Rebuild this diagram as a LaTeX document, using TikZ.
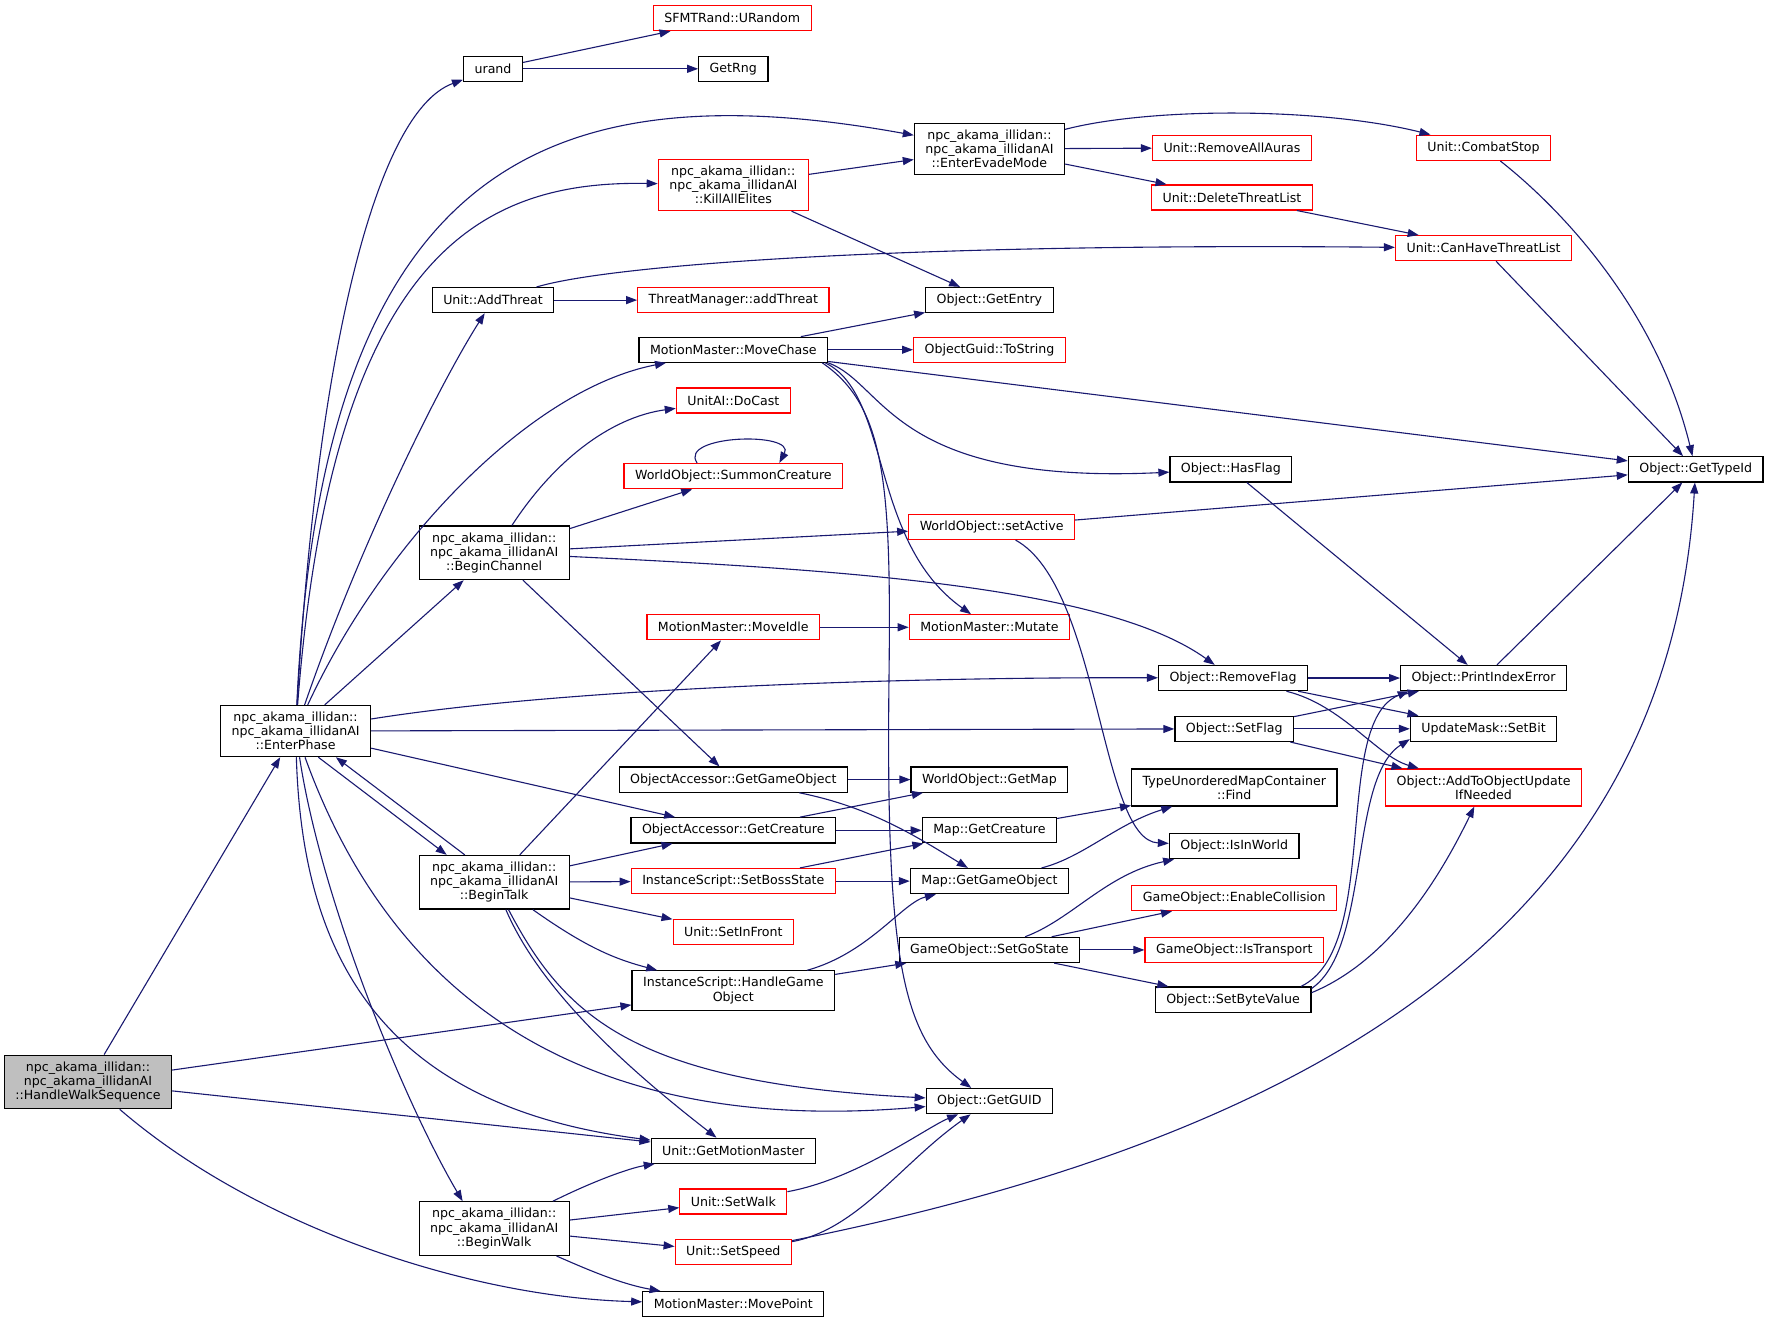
\documentclass[tikz,border=0pt]{standalone}
\usepackage{fontspec}
\setmainfont{DejaVu Sans}
\usetikzlibrary{arrows.meta}
\definecolor{edgeblue}{HTML}{191970}
\definecolor{rootgray}{HTML}{BFBFBF}
\newcommand{\fnfont}{\fontsize{12.6}{14.2}\selectfont}
\tikzset{
	fn/.style={draw=black, line width=1.2pt, fill=white, inner xsep=11pt, inner ysep=6.5pt, minimum height=25pt, align=center, font=\fnfont},
	fnred/.style={fn, draw=red},
	fnroot/.style={fn, fill=rootgray},
	edge/.style={draw=edgeblue, line width=1.1pt, -{Triangle[length=11pt,width=8pt]}}
}
\begin{document}
\begin{tikzpicture}[x=1.1282pt,y=-1.1282pt]
		\useasboundingbox[fill=white] (0,0) rectangle (1568,1173);
		\node[fnroot] (hws) at (78,959) {npc\_akama\_illidan::\\npc\_akama\_illidanAI\\::HandleWalkSequence};
		\node[fn] (ep) at (262,648) {npc\_akama\_illidan::\\npc\_akama\_illidanAI\\::EnterPhase};
		\node[fn] (urand) at (437,61) {urand};
		\node[fnred] (urandom) at (649,16) {SFMTRand::URandom};
		\node[fn] (getrng) at (650,61) {GetRng};
		\node[fn] (evade) at (877,132) {npc\_akama\_illidan::\\npc\_akama\_illidanAI\\::EnterEvadeMode};
		\node[fnred] (elites) at (650,164) {npc\_akama\_illidan::\\npc\_akama\_illidanAI\\::KillAllElites};
		\node[fnred] (rmauras) at (1092,131) {Unit::RemoveAllAuras};
		\node[fnred] (combat) at (1315,131) {Unit::CombatStop};
		\node[fnred] (delthreat) at (1092,175) {Unit::DeleteThreatList};
		\node[fnred] (canthreat) at (1315,220) {Unit::CanHaveThreatList};
		\node[fn] (addthr) at (437,266) {Unit::AddThreat};
		\node[fnred] (tmadd) at (650,266) {ThreatManager::addThreat};
		\node[fn] (getentry) at (877,266) {Object::GetEntry};
		\node[fn] (movechase) at (650,310) {MotionMaster::MoveChase};
		\node[fnred] (tostring) at (877,310) {ObjectGuid::ToString};
		\node[fnred] (docast) at (650,355) {UnitAI::DoCast};
		\node[fnred] (summon) at (650,422) {WorldObject::SummonCreature};
		\node[fn] (typeid) at (1503,416) {Object::GetTypeId};
		\node[fn] (hasflag) at (1091,416) {Object::HasFlag};
		\node[fn] (channel) at (438,490) {npc\_akama\_illidan::\\npc\_akama\_illidanAI\\::BeginChannel};
		\node[fnred] (setactive) at (879,467) {WorldObject::setActive};
		\node[fnred] (moveidle) at (650,556) {MotionMaster::MoveIdle};
		\node[fnred] (mutate) at (877,556) {MotionMaster::Mutate};
		\node[fn] (rmflag) at (1093,601) {Object::RemoveFlag};
		\node[fn] (printerr) at (1315,601) {Object::PrintIndexError};
		\node[fn] (setflag) at (1094,646) {Object::SetFlag};
		\node[fn] (setbit) at (1315,646) {UpdateMask::SetBit};
		\node[fn] (oagetgo) at (650,691) {ObjectAccessor::GetGameObject};
		\node[fn] (getmap) at (877,691) {WorldObject::GetMap};
		\node[fn] (find) at (1094,698) {TypeUnorderedMapContainer\\::Find};
		\node[fnred] (addupd) at (1315,698) {Object::AddToObjectUpdate\\IfNeeded};
		\node[fn] (oagetcr) at (650,736) {ObjectAccessor::GetCreature};
		\node[fn] (mapgetcr) at (877,736) {Map::GetCreature};
		\node[fn] (isinworld) at (1094,750) {Object::IsInWorld};
		\node[fn] (talk) at (438,782) {npc\_akama\_illidan::\\npc\_akama\_illidanAI\\::BeginTalk};
		\node[fnred] (bossstate) at (650,781) {InstanceScript::SetBossState};
		\node[fn] (mapgetgo) at (877,781) {Map::GetGameObject};
		\node[fnred] (enablecoll) at (1094,796) {GameObject::EnableCollision};
		\node[fnred] (setinfront) at (650,826) {Unit::SetInFront};
		\node[fn] (setgostate) at (877,842) {GameObject::SetGoState};
		\node[fnred] (istransport) at (1094,842) {GameObject::IsTransport};
		\node[fn] (handlego) at (650,878) {InstanceScript::HandleGame\\Object};
		\node[fn] (setbyte) at (1093,886) {Object::SetByteValue};
		\node[fn] (getguid) at (877,976) {Object::GetGUID};
		\node[fn] (getmm) at (650,1020) {Unit::GetMotionMaster};
		\node[fn] (walk) at (438,1089) {npc\_akama\_illidan::\\npc\_akama\_illidanAI\\::BeginWalk};
		\node[fnred] (setwalk) at (650,1065) {Unit::SetWalk};
		\node[fnred] (setspeed) at (650,1110) {Unit::SetSpeed};
		\node[fn] (movepoint) at (650,1156) {MotionMaster::MovePoint};

		\foreach \a/\b in {hws/ep, hws/handlego, hws/getmm, ep/channel, ep/setflag, ep/oagetcr,
			urand/urandom, urand/getrng, elites/evade, elites/getentry, evade/rmauras, evade/delthreat,
			delthreat/canthreat, canthreat/typeid, addthr/tmadd, movechase/getentry, movechase/tostring,
			movechase/typeid, channel/summon, channel/setactive, channel/oagetgo, setactive/typeid,
			hasflag/printerr, moveidle/mutate, rmflag/printerr, rmflag/setbit, setflag/printerr,
			setflag/setbit, setflag/addupd, printerr/typeid, oagetgo/getmap, oagetcr/getmap,
			oagetcr/mapgetcr, mapgetcr/find, talk/moveidle, talk/oagetcr, talk/bossstate, talk/setinfront,
			bossstate/mapgetcr, bossstate/mapgetgo, handlego/setgostate, setgostate/enablecoll,
			setgostate/istransport, setgostate/setbyte, walk/setwalk, walk/setspeed}
			\draw[edge] (\a) -- (\b);
		\draw[edge] (ep.-49) -- (talk.150);
		\draw[edge] (talk.137) -- (ep.-33);

		\draw[edge] (hws) .. controls (230,1090) and (420,1150) .. (movepoint);
		\draw[edge] (ep) .. controls (280,330) and (330,100) .. (urand);
		\draw[edge] (ep) .. controls (285,150) and (480,60) .. (evade);
		\draw[edge] (ep) .. controls (295,220) and (430,160) .. (elites);
		\draw[edge] (ep) .. controls (320,480) and (390,340) .. (addthr);
		\draw[edge] (ep) .. controls (340,480) and (470,345) .. (movechase);
		\draw[edge] (ep) .. controls (500,610) and (800,600) .. (rmflag);
		\draw[edge] (ep) .. controls (335,850) and (480,1010) .. (getguid);
		\draw[edge] (ep) .. controls (268,850) and (340,980) .. (getmm);
		\draw[edge] (ep) .. controls (285,800) and (360,980) .. (walk.139);
		\draw[edge] (evade) .. controls (1020,95) and (1170,95) .. (combat);
		\draw[edge] (combat) .. controls (1390,190) and (1470,280) .. (typeid);
		\draw[edge] (addthr) .. controls (540,235) and (800,215) .. (canthreat);
		\draw[edge] (movechase.south east) .. controls (785,340) and (790,430) .. (hasflag);
		\draw[edge] ([xshift=-3pt]movechase.south east) .. controls (790,350) and (770,480) .. (mutate);
		\draw[edge] ([xshift=-6pt]movechase.south east) .. controls (785,360) and (790,430) .. (788,600)
			.. controls (785,850) and (800,920) .. (getguid);
		\draw[edge] (channel) .. controls (490,410) and (540,370) .. (docast);
		\draw[edge] (summon.160) .. controls +(-17,-25) and +(15,-28) .. (summon.16);
		\draw[edge] (channel) .. controls (750,505) and (980,520) .. (rmflag);
		\draw[edge] (setactive) .. controls (975,520) and (975,745) .. (isinworld);
		\draw[edge] (rmflag) .. controls (1190,625) and (1220,670) .. (addupd);
		\draw[edge] (oagetgo) .. controls (770,715) and (810,740) .. (mapgetgo);
		\draw[edge] (mapgetgo) .. controls (960,760) and (990,730) .. (find);
		\draw[edge] (talk) .. controls (520,840) and (545,850) .. (handlego);
		\draw[edge] (talk) .. controls (500,900) and (560,960) .. (getguid);
		\draw[edge] (talk) .. controls (480,880) and (560,950) .. (getmm);
		\draw[edge] (handlego) .. controls (770,845) and (800,800) .. (mapgetgo);
		\draw[edge] (setgostate) .. controls (950,815) and (980,775) .. (isinworld);
		\draw[edge] (setbyte.11) .. controls (1225,840) and (1180,640) .. (printerr.-170);
		\draw[edge] (setbyte.8) .. controls (1215,840) and (1195,690) .. (setbit.-172);
		\draw[edge] (setbyte.5) .. controls (1235,850) and (1280,770) .. (addupd);
		\draw[edge] (walk.25) .. controls (530,1045) and (560,1035) .. (getmm);
		\draw[edge] (walk) .. controls (520,1125) and (550,1138) .. (movepoint);
		\draw[edge] (setwalk) .. controls (760,1045) and (820,1000) .. (getguid);
		\draw[edge] (setspeed) .. controls (760,1090) and (800,1030) .. (getguid);
		\draw[edge] (setspeed) .. controls (1200,1000) and (1480,800) .. (typeid);
\end{tikzpicture}
\end{document}
